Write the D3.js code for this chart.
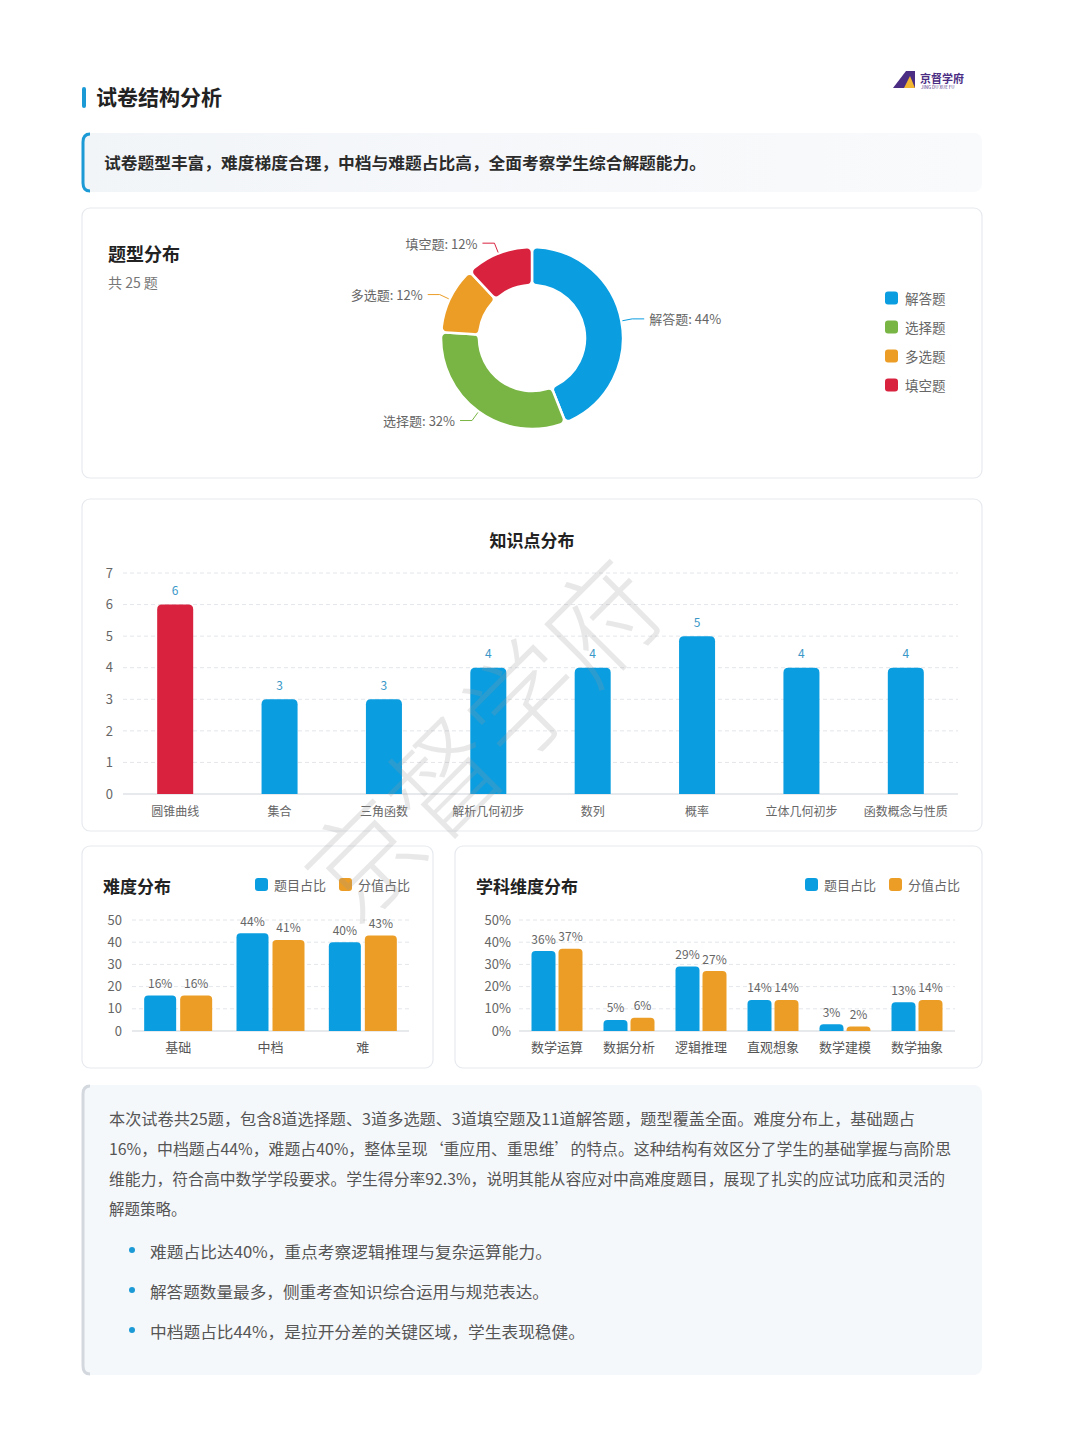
<!DOCTYPE html>
<html><head><meta charset="utf-8">
<script src="https://cdn.jsdelivr.net/npm/d3@7"></script>
<style>
html,body{margin:0;padding:0;background:#fff;}
svg{display:block;font-family:"Noto Sans CJK SC","Noto Sans",sans-serif;}
</style></head>
<body>
<svg id="page" width="1080" height="1430"></svg>
<script>
// ---------------- data ----------------
const typeNames = ['解答题','选择题','多选题','填空题'];
const typeShares = [44, 32, 12, 12];
const typeColors = ['#0a9de0','#79b544','#eb9d26','#d8223e'];

const knowCats = ['圆锥曲线','集合','三角函数','解析几何初步','数列','概率','立体几何初步','函数概念与性质'];
const knowCounts = [6, 3, 3, 4, 4, 5, 4, 4];
const knowTicks = [0,1,2,3,4,5,6,7];

const seriesNames = ['题目占比','分值占比'];
const seriesColors = ['#0a9de0','#eb9d26'];

const diffLevels = ['基础','中档','难'];
const diffQShare = [16, 44, 40];
const diffScoreShare = [16, 41, 43];
const diffTicks = [0,10,20,30,40,50];

const dimCats = ['数学运算','数据分析','逻辑推理','直观想象','数学建模','数学抽象'];
const dimQShare = [36, 5, 29, 14, 3, 13];
const dimScoreShare = [37, 6, 27, 14, 2, 14];
const dimTicks = [0,10,20,30,40,50];

const summaryText = '试卷题型丰富，难度梯度合理，中档与难题占比高，全面考察学生综合解题能力。';
const paraLines = [
  '本次试卷共25题，包含8道选择题、3道多选题、3道填空题及11道解答题，题型覆盖全面。难度分布上，基础题占',
  '16%，中档题占44%，难题占40%，整体呈现‘重应用、重思维’的特点。这种结构有效区分了学生的基础掌握与高阶思',
  '维能力，符合高中数学学段要求。学生得分率92.3%，说明其能从容应对中高难度题目，展现了扎实的应试功底和灵活的',
  '解题策略。'
];
const bullets = [
  '难题占比达40%，重点考察逻辑推理与复杂运算能力。',
  '解答题数量最多，侧重考查知识综合运用与规范表达。',
  '中档题占比44%，是拉开分差的关键区域，学生表现稳健。'
];

// ---------------- helpers ----------------
const svg = d3.select('#page');
const FONT = '"Noto Sans CJK SC","Noto Sans",sans-serif';
function topRounded(x, y, w, h, r) {
  r = Math.max(0, Math.min(r, w / 2, h));
  return `M${x},${y + h}V${y + r}Q${x},${y} ${x + r},${y}H${x + w - r}Q${x + w},${y} ${x + w},${y + r}V${y + h}Z`;
}
function card(x, y, w, h) {
  svg.append('rect').attr('x', x).attr('y', y).attr('width', w).attr('height', h)
    .attr('rx', 8).attr('fill', '#fff').attr('stroke', '#e6e9ee').attr('stroke-width', 1.2);
}
function txt(g, x, y, s, opts = {}) {
  return g.append('text').attr('x', x).attr('y', y).text(s)
    .attr('font-size', opts.size || 13).attr('fill', opts.fill || '#555')
    .attr('font-weight', opts.weight || 400)
    .attr('text-anchor', opts.anchor || 'start')
    .attr('dominant-baseline', opts.baseline || 'central');
}

// ---------------- header ----------------
svg.append('rect').attr('x', 82).attr('y', 87).attr('width', 4).attr('height', 21).attr('rx', 2).attr('fill', '#1b9ad6');
txt(svg, 96, 96, '试卷结构分析', {size: 21, weight: 700, fill: '#222'});

// logo
const logo = svg.append('g');
logo.append('path').attr('d', 'M893,88 L906,71 L915,71 L915,88 Z').attr('fill', '#4b2d83');
logo.append('path').attr('d', 'M904,88 L910,76 L915,88 Z').attr('fill', '#f2b632');
txt(logo, 920, 78, '京督学府', {size: 11, weight: 700, fill: '#4b2d83'});
txt(logo, 921, 87, 'JING DU XUE FU', {size: 4.5, fill: '#4b2d83'});

// summary box
const grad = svg.append('defs').append('linearGradient').attr('id', 'sumg');
grad.append('stop').attr('offset', '0%').attr('stop-color', '#f2f5f8');
grad.append('stop').attr('offset', '100%').attr('stop-color', '#f9fafc');
svg.append('rect').attr('x', 82).attr('y', 133).attr('width', 900).attr('height', 59).attr('rx', 8).attr('fill', 'url(#sumg)');
svg.append('path').attr('d', 'M90,134 Q83,134 83,142 V183 Q83,191 90,191').attr('fill', 'none').attr('stroke', '#1b9ad6').attr('stroke-width', 3);
txt(svg, 104, 162, summaryText, {size: 16, weight: 700, fill: '#2b2b2b'}).attr('textLength', 602).attr('lengthAdjust', 'spacingAndGlyphs');

// ---------------- card 1: donut ----------------
card(82, 208, 900, 270);
txt(svg, 108, 253, '题型分布', {size: 18, weight: 700, fill: '#222'});
txt(svg, 108, 282, '共 25 题', {size: 14, fill: '#777'});

const cx = 532, cy = 338, rOut = 91, rIn = 53;
const pie = d3.pie().sort(null).value(d => d.v);
const pieData = pie(typeNames.map((n, i) => ({n, v: typeShares[i], c: typeColors[i]})));
const arc = d3.arc().innerRadius(rIn).outerRadius(rOut).cornerRadius(5);
const dg = svg.append('g').attr('transform', `translate(${cx},${cy})`);
dg.selectAll('path.slice').data(pieData).join('path').attr('class', 'slice')
  .attr('d', arc).attr('fill', d => d.data.c).attr('stroke', '#fff').attr('stroke-width', 2.5).attr('stroke-linejoin', 'round');

pieData.forEach(d => {
  const a = (d.startAngle + d.endAngle) / 2;
  const sx = Math.sin(a), sy = -Math.cos(a);
  const p1 = [sx * (rOut + 1), sy * (rOut + 1)];
  const p2 = [sx * (rOut + 11), sy * (rOut + 11)];
  const dir = sx >= 0 ? 1 : -1;
  const p3 = [p2[0] + dir * 12, p2[1]];
  dg.append('path').attr('d', `M${p1}L${p2}L${p3}`).attr('fill', 'none').attr('stroke', d.data.c).attr('stroke-width', 1);
  txt(dg, p3[0] + dir * 5, p3[1], `${d.data.n}: ${d.data.v}%`, {size: 13, fill: '#666', anchor: dir > 0 ? 'start' : 'end'});
});

// legend
const lg = svg.append('g');
const legY = d3.scalePoint().domain(typeNames).range([298, 385]);
typeNames.forEach((n, i) => {
  lg.append('rect').attr('x', 885).attr('y', legY(n) - 6.5).attr('width', 13).attr('height', 13).attr('rx', 3).attr('fill', typeColors[i]);
  txt(lg, 905, legY(n), n, {size: 13.5, fill: '#666'});
});

// ---------------- card 2: knowledge bars ----------------
card(82, 499, 900, 332);
txt(svg, 532, 539, '知识点分布', {size: 17, weight: 700, fill: '#222', anchor: 'middle'});
const kx = d3.scaleBand().domain(knowCats).range([123, 958]).padding(0);
const ky = d3.scaleLinear().domain([0, 7]).range([794, 573]);
const kg = svg.append('g');
kg.selectAll('line.grid').data(knowTicks.filter(t => t > 0)).join('line').attr('class', 'grid')
  .attr('x1', 123).attr('x2', 958).attr('y1', d => ky(d)).attr('y2', d => ky(d))
  .attr('stroke', '#e3e6ea').attr('stroke-dasharray', '4,3');
kg.append('line').attr('x1', 123).attr('x2', 958).attr('y1', ky(0)).attr('y2', ky(0)).attr('stroke', '#cfd4da');
const kyAxis = kg.append('g').attr('transform', 'translate(113,0)')
  .call(d3.axisLeft(ky).tickValues(knowTicks).tickSize(0).tickPadding(0).tickFormat(d3.format('d')));
kyAxis.select('.domain').remove();
kyAxis.selectAll('text').attr('font-size', 13).attr('fill', '#666').attr('font-family', FONT);
const kbw = kx.bandwidth() * 0.345;
knowCats.forEach((c, i) => {
  const xc = kx(c) + kx.bandwidth() / 2;
  const top = ky(knowCounts[i]);
  kg.append('path').attr('d', topRounded(xc - kbw / 2, top, kbw, ky(0) - top, 5)).attr('fill', i === 0 ? '#d8223e' : '#0a9de0');
  txt(kg, xc, top - 15, knowCounts[i], {size: 12, fill: '#3a98c8', anchor: 'middle'});
  txt(kg, xc, 810, c, {size: 12, fill: '#666', anchor: 'middle'});
});

// ---------------- grouped bar helper ----------------
function groupedChart(opts) {
  const g = svg.append('g');
  const x0 = d3.scaleBand().domain(opts.cats).range(opts.xr).padding(0);
  const y = d3.scaleLinear().domain([0, 50]).range([1031, 920]);
  g.selectAll('line.grid').data(opts.ticks.filter(t => t > 0)).join('line').attr('class', 'grid')
    .attr('x1', opts.gx[0]).attr('x2', opts.gx[1]).attr('y1', d => y(d)).attr('y2', d => y(d))
    .attr('stroke', '#e3e6ea').attr('stroke-dasharray', '4,3');
  g.append('line').attr('x1', opts.gx[0]).attr('x2', opts.gx[1]).attr('y1', y(0)).attr('y2', y(0)).attr('stroke', '#cfd4da');
  const ax = g.append('g').attr('transform', `translate(${opts.ax},0)`)
    .call(d3.axisLeft(y).tickValues(opts.ticks).tickSize(0).tickPadding(0).tickFormat(opts.fmt));
  ax.select('.domain').remove();
  ax.selectAll('text').attr('font-size', 13).attr('fill', '#666').attr('font-family', FONT);
  const bw = opts.bw, gap = opts.gap;
  opts.cats.forEach((c, i) => {
    const xc = x0(c) + x0.bandwidth() / 2;
    [opts.s1, opts.s2].forEach((s, j) => {
      const bx = j === 0 ? xc - gap / 2 - bw : xc + gap / 2;
      const top = y(s[i]);
      g.append('path').attr('d', topRounded(bx, top, bw, y(0) - top, 4)).attr('fill', seriesColors[j]);
      txt(g, bx + bw / 2, top - 13, s[i] + '%', {size: 12, fill: '#666', anchor: 'middle'});
    });
    txt(g, xc, 1046, c, {size: 13, fill: '#555', anchor: 'middle'});
  });
  // legend
  opts.leg.forEach((lx, j) => {
    g.append('rect').attr('x', lx).attr('y', 878).attr('width', 13).attr('height', 13).attr('rx', 3).attr('fill', seriesColors[j]);
    txt(g, lx + 19, 884.5, seriesNames[j], {size: 13, fill: '#666'});
  });
}

// card 3: difficulty
card(82, 846, 351, 222);
txt(svg, 103, 885, '难度分布', {size: 17, weight: 700, fill: '#222'});
groupedChart({cats: diffLevels, s1: diffQShare, s2: diffScoreShare, ticks: diffTicks, fmt: d => d,
  xr: [132, 409], gx: [132, 409], ax: 122, bw: 32, gap: 4, leg: [255, 339]});

// card 4: subject dimension
card(455, 846, 527, 222);
txt(svg, 476, 885, '学科维度分布', {size: 17, weight: 700, fill: '#222'});
groupedChart({cats: dimCats, s1: dimQShare, s2: dimScoreShare, ticks: dimTicks, fmt: d => d + '%',
  xr: [521, 953], gx: [519, 955], ax: 511, bw: 24, gap: 3, leg: [805, 889]});

// ---------------- card 5: text ----------------
svg.append('rect').attr('x', 82).attr('y', 1085).attr('width', 900).attr('height', 290).attr('rx', 8).attr('fill', '#f5f8fb');
svg.append('path').attr('d', 'M90,1086 Q83,1086 83,1094 V1366 Q83,1374 90,1374').attr('fill', 'none').attr('stroke', '#d3d8de').attr('stroke-width', 3);
const lineW = [806, 842, 836, null];
paraLines.forEach((s, i) => {
  const t = txt(svg, 109, 1118 + i * 30, s, {size: 15.5, fill: '#555'});
  if (lineW[i]) t.attr('textLength', lineW[i]).attr('lengthAdjust', 'spacingAndGlyphs');
});
const bulletW = [402, 399, 435];
bullets.forEach((s, i) => {
  const y = 1251 + i * 40;
  svg.append('circle').attr('cx', 132).attr('cy', y - 1).attr('r', 3).attr('fill', '#1b9ad6');
  txt(svg, 150, y, s, {size: 15.5, fill: '#555'}).attr('textLength', bulletW[i]).attr('lengthAdjust', 'spacingAndGlyphs');
});

// ---------------- watermark ----------------
svg.append('text').attr('x', 0).attr('y', 0).text('京督学府')
  .attr('transform', 'translate(478,735) rotate(-45)')
  .attr('text-anchor', 'middle').attr('dominant-baseline', 'central')
  .attr('font-size', 112).attr('font-weight', 300).attr('fill', '#9a9a9a').attr('opacity', 0.22)
  .attr('font-family', FONT);
</script>
</body></html>
